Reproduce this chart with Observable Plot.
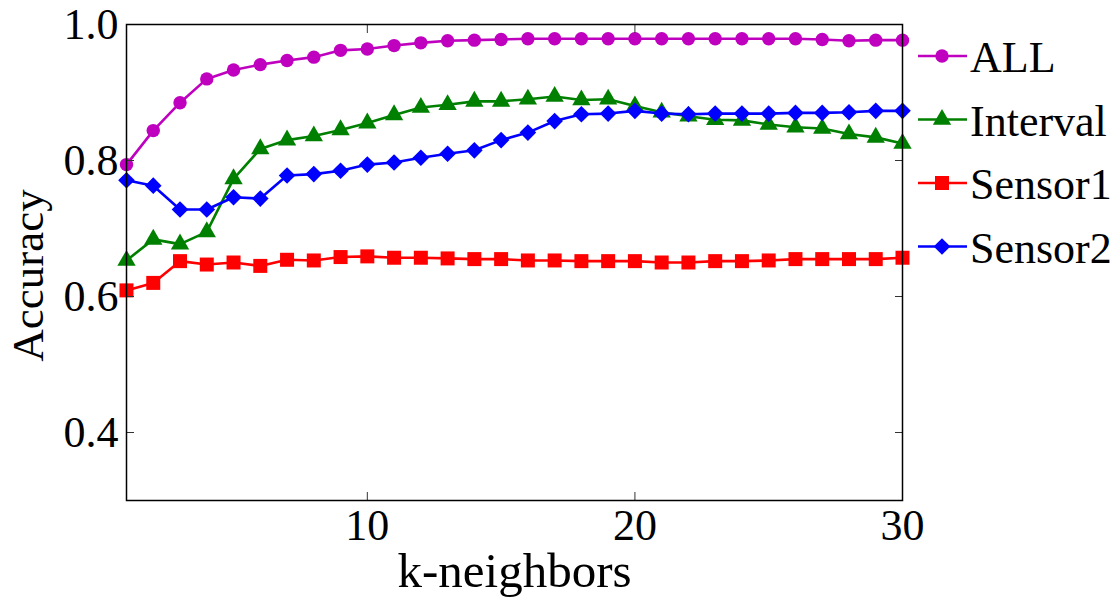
<!DOCTYPE html>
<html><head><meta charset="utf-8">
<script src="https://cdn.jsdelivr.net/npm/d3@7"></script>
<script src="https://cdn.jsdelivr.net/npm/@observablehq/plot@0.6"></script>
<style>
body{margin:0;background:#fff}
#wrap{position:relative;width:1118px;height:599px;font-family:"Times New Roman",Times,"Liberation Serif","DejaVu Serif",serif}
#wrap svg text{font-family:"Times New Roman",Times,"Liberation Serif","DejaVu Serif",serif !important}
#legend{position:absolute;left:900px;top:0px}
</style>
</head><body><div id="wrap"></div>
<script>
const kNeighbors = [1,2,3,4,5,6,7,8,9,10,11,12,13,14,15,16,17,18,19,20,21,22,23,24,25,26,27,28,29,30];
const allAcc      = [0.794,0.844,0.885,0.920,0.933,0.941,0.947,0.952,0.962,0.964,0.969,0.973,0.976,0.977,0.978,0.979,0.979,0.979,0.979,0.979,0.979,0.979,0.979,0.979,0.979,0.979,0.978,0.976,0.977,0.977];
const intervalAcc = [0.653,0.684,0.677,0.695,0.773,0.817,0.830,0.836,0.845,0.855,0.867,0.878,0.882,0.887,0.887,0.890,0.894,0.889,0.890,0.880,0.871,0.865,0.860,0.859,0.853,0.849,0.847,0.839,0.834,0.825];
const sensor1Acc  = [0.609,0.620,0.652,0.647,0.650,0.645,0.654,0.653,0.658,0.659,0.657,0.657,0.656,0.655,0.655,0.653,0.653,0.652,0.652,0.652,0.650,0.650,0.652,0.652,0.653,0.655,0.655,0.655,0.655,0.657];
const sensor2Acc  = [0.771,0.763,0.728,0.728,0.746,0.744,0.778,0.780,0.785,0.794,0.797,0.804,0.810,0.815,0.830,0.841,0.858,0.868,0.869,0.873,0.869,0.868,0.869,0.869,0.869,0.870,0.870,0.871,0.873,0.873];

const seriesNames   = ["ALL","Interval","Sensor1","Sensor2"];
const seriesValues  = [allAcc, intervalAcc, sensor1Acc, sensor2Acc];
const seriesColors  = ["#BF00BF","#008000","#FF0000","#0000FF"];
const seriesSymbols = ["circle","triangle","square","diamond2"];
const seriesR       = [6.7, 6.8, 7.9, 7.5];

const xTickLabels = [10,20,30];
const xTicks = [10,20];
const yTickLabels = [0.4,0.6,0.8,1.0];
const yTicks = [0.4,0.6,0.8];
const xLabel = "k-neighbors";
const yLabel = "Accuracy";

const FONT = "Times New Roman, Times, Liberation Serif, DejaVu Serif, serif";

const seriesMarks = [];
seriesNames.forEach((name,i)=>{
  const rows = kNeighbors.map((k,j)=>({k, acc: seriesValues[i][j], series:name}));
  seriesMarks.push(Plot.line(rows,{x:"k",y:"acc",stroke:seriesColors[i],strokeWidth:2.6}));
  seriesMarks.push(Plot.dot(rows,{x:"k",y:"acc",fill:seriesColors[i],stroke:"none",symbol:seriesSymbols[i],r:seriesR[i]}));
});

const chart = Plot.plot({
  width:1118, height:599,
  marginLeft:126, marginRight:216, marginTop:24, marginBottom:99,
  style:{fontFamily:FONT, background:"#fff", color:"#000", overflow:"visible"},
  x:{domain:[1,30]},
  y:{domain:[0.3,1.0]},
  marks:[
    ...seriesMarks,
    Plot.axisX(xTickLabels,{anchor:"bottom",tickSize:0,tickPadding:8,fontSize:44,fontFamily:FONT,fontVariant:"normal",label:null}),
    Plot.axisX(xTicks,{anchor:"bottom",tickSize:-8,tickFormat:()=>"",label:null,stroke:"#333"}),
    Plot.axisX(xTicks,{anchor:"top",tickSize:-8,tickFormat:()=>"",label:null,stroke:"#333"}),
    Plot.axisY(yTickLabels,{anchor:"left",tickSize:0,tickPadding:8,fontSize:44,fontFamily:FONT,fontVariant:"normal",label:null,tickFormat:d3.format(".1f")}),
    Plot.axisY(yTicks,{anchor:"left",tickSize:-8,tickFormat:()=>"",label:null,stroke:"#333"}),
    Plot.axisY(yTicks,{anchor:"right",tickSize:-8,tickFormat:()=>"",label:null,stroke:"#333"}),
    Plot.frame({stroke:"#000",strokeWidth:1.5}),
    Plot.text([xLabel],{frameAnchor:"bottom",textAnchor:"middle",lineAnchor:"middle",dy:71,fontSize:49,fontFamily:FONT}),
    Plot.text([yLabel],{frameAnchor:"left",textAnchor:"middle",lineAnchor:"middle",dx:-98,dy:13,rotate:-90,fontSize:45,fontFamily:FONT})
  ]
});
const wrap = document.getElementById("wrap");
wrap.appendChild(chart);

// legend
const lg = d3.select(wrap).append("svg").attr("id","legend").attr("width",218).attr("height",300);
const symMap = {circle:d3.symbolCircle,triangle:d3.symbolTriangle,square:d3.symbolSquare,diamond2:d3.symbolDiamond2};
seriesNames.forEach((name,i)=>{
  const y = 56 + i*63.5;
  const g = lg.append("g");
  g.append("line").attr("x1",18).attr("x2",67).attr("y1",y).attr("y2",y)
    .attr("stroke",seriesColors[i]).attr("stroke-width",2.6);
  g.append("path").attr("transform",`translate(42,${y})`)
    .attr("d",d3.symbol(symMap[seriesSymbols[i]], Math.PI*seriesR[i]*seriesR[i])())
    .attr("fill",seriesColors[i]);
  g.append("text").attr("x",70).attr("y",y+16)
    .style("font-size","44px").attr("fill","#000").text(name);
});
</script>
</body></html>
